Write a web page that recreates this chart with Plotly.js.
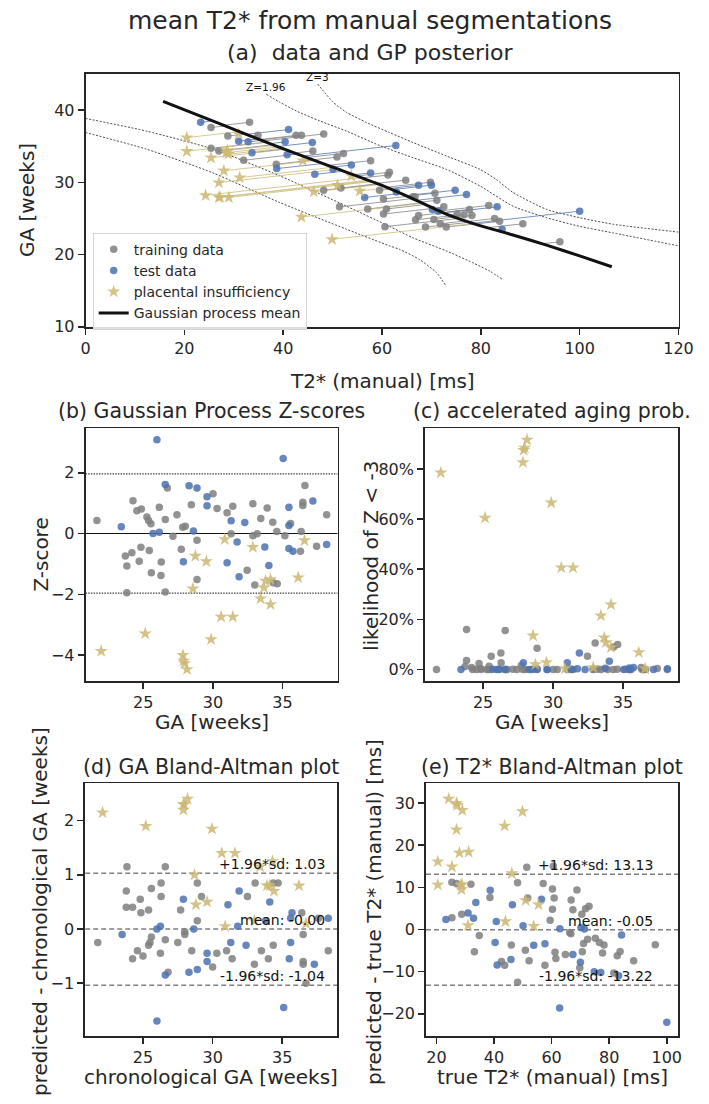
<!DOCTYPE html>
<html>
<head>
<meta charset="utf-8">
<script src="https://cdn.plot.ly/plotly-3.0.1.min.js"></script>
<style>
  html, body { margin: 0; padding: 0; background: #ffffff; }
  #chart { width: 709px; height: 1104px; }
</style>
</head>
<body>
<div id="chart"></div>
<script>
// ---------------------------------------------------------------
// Scans: mean T2* (ms), gestational age (weeks) and the point the
// GP model predicts for each scan (predicted T2*, predicted GA).
// ---------------------------------------------------------------
const trainT2 = [33.2, 25.4, 28.8, 34.9, 42.6, 43.7, 48.2, 25.4, 27.0, 32.0, 38.6, 46.0, 50.9, 52.2, 57.7, 48.2,
  51.4, 57.1, 51.7, 61.5, 61.2, 64.8, 69.8, 59.5, 60.3, 66.3, 66.7, 70.7, 71.1, 60.9, 60.3, 60.6, 72.5, 67.4,
  66.8, 70.5, 71.8, 73.0, 68.8, 75.2, 76.6, 78.2, 77.7, 81.6, 82.8, 83.8, 88.5, 96.0];
const trainGA = [38.3, 37.6, 36.4, 36.5, 36.5, 36.5, 36.7, 34.7, 34.35, 33.05, 32.5, 34.35, 33.5, 34.0, 33.0, 28.9,
  26.6, 26.3, 29.2, 31.4, 31.0, 30.3, 30.0, 28.9, 27.7, 28.0, 28.0, 28.5, 27.5, 26.3, 25.6, 23.85, 26.6, 25.4,
  24.8, 24.85, 24.25, 23.8, 23.8, 25.6, 25.5, 25.4, 26.25, 26.8, 25.0, 24.6, 24.25, 21.75];
const trainPredT2 = [27.9, 28.2, 32.4, 33.5, 35.0, 35.2, 35.7, 36.6, 37.9, 42.75, 46.2, 42.3, 46.0, 44.8, 49.2, 59.3,
  66.2, 68.0, 59.2, 54.65, 55.8, 58.9, 60.7, 61.7, 65.1, 65.6, 65.7, 65.4, 67.8, 68.4, 69.9, 75.6, 70.2, 72.1,
  73.8, 74.1, 76.7, 78.5, 78.2, 73.1, 73.5, 74.5, 72.1, 71.3, 76.6, 78.6, 81.1, 92.4];
const trainPredGA = [37.9, 37.8, 36.7, 36.4, 35.9, 35.85, 35.7, 35.55, 35.2, 33.9, 33.1, 34.05, 33.1, 33.45, 32.35, 29.75,
  27.75, 27.15, 29.8, 30.85, 30.6, 29.85, 29.3, 29.05, 28.05, 27.95, 27.9, 28.1, 27.25, 26.9, 26.35, 25.0, 26.4, 25.75,
  25.35, 25.15, 24.65, 24.2, 24.5, 25.45, 25.25, 25.1, 25.8, 26.0, 24.5, 24.2, 23.7, 21.5];

const testT2 = [23.3, 41.1, 31.0, 32.9, 40.4, 45.9, 33.7, 40.8, 38.7, 46.4, 50.1, 53.8, 57.7, 56.5, 62.8, 67.4,
  70.0, 62.9, 74.8, 77.1, 70.2, 71.4, 83.3, 100.0, 84.3];
const testGA = [38.3, 37.3, 35.7, 35.6, 35.6, 35.5, 34.1, 33.8, 31.9, 31.1, 31.8, 32.4, 31.3, 27.9, 35.1, 29.6,
  29.6, 28.65, 28.9, 28.3, 26.25, 26.0, 26.6, 26.0, 23.5];
const testPredT2 = [25.7, 32.7, 34.9, 35.6, 37.3, 38.8, 40.1, 42.7, 48.0, 52.25, 51.0, 50.05, 54.3, 63.7, 44.2, 61.5,
  62.25, 63.1, 64.8, 66.9, 70.65, 71.5, 72.3, 78.0, 83.0];
const testPredGA = [38.5, 36.65, 36.0, 35.8, 35.35, 34.95, 34.6, 33.95, 32.6, 31.55, 31.85, 32.1, 31.05, 28.45, 33.65, 29.15,
  29.0, 28.65, 28.15, 27.5, 26.3, 26.0, 25.75, 24.3, 23.4];

const piT2 = [20.5, 20.5, 31.0, 25.4, 28.5, 28.9, 28.7, 28.0, 31.2, 27.0, 24.3, 27.2, 27.0, 29.0, 43.7, 49.9,
  44.0, 46.2, 51.0, 53.8, 55.5];
const piGA = [36.2, 34.3, 36.7, 33.4, 34.1, 33.9, 34.4, 31.6, 30.65, 29.95, 28.2, 27.95, 27.9, 27.9, 25.2, 22.1,
  33.0, 28.7, 29.6, 30.9, 28.8];
const piPredT2 = [31.1, 36.6, 32.0, 40.3, 39.0, 39.6, 38.2, 46.2, 49.6, 50.7, 55.3, 56.7, 57.0, 57.3, 68.3, 77.9,
  45.9, 59.5, 57.9, 54.6, 61.4];
const piPredGA = [37.0, 35.55, 36.8, 34.55, 34.9, 34.7, 35.1, 33.0, 32.05, 31.8, 30.6, 30.25, 30.2, 30.1, 27.1, 24.25,
  33.15, 29.7, 30.1, 30.95, 29.25];

// ---------------------------------------------------------------
// GP posterior mean and the Z = +-1.96 / +-3 contours
// ---------------------------------------------------------------
const gpMeanT2 = [15.7, 27.0, 38.6, 50.0, 59.5, 66.3, 73.0, 79.8, 86.5, 93.3, 100.0, 106.5];
const gpMeanGA = [41.2, 38.15, 35.0, 32.1, 29.7, 27.7, 25.6, 24.0, 22.7, 21.3, 19.8, 18.3];

const zUp196T2 = [36.6, 39.3, 42.6, 47.4, 52.8, 59.5, 66.3, 73.0, 79.8, 86.5, 93.3, 100.0, 106.7, 120.0];
const zUp196GA = [42.2, 41.1, 39.9, 38.5, 37.1, 35.1, 33.4, 31.8, 29.5, 26.7, 25.1, 23.9, 23.0, 21.2];
const zUp3T2 = [47.0, 50.1, 52.8, 56.8, 61.5, 66.3, 73.0, 79.8, 83.1, 86.5, 93.3, 100.0, 106.7, 120.0];
const zUp3GA = [43.6, 41.1, 39.7, 38.3, 36.9, 35.5, 33.65, 31.8, 30.4, 28.6, 26.25, 25.1, 24.2, 23.1];
const zLo196T2 = [0.0, 12.3, 25.8, 39.3, 52.8, 61.5, 66.3, 73.0, 78.4, 81.8, 84.5];
const zLo196GA = [38.85, 37.1, 34.6, 30.9, 26.7, 23.9, 22.3, 20.5, 18.85, 17.7, 16.5];
const zLo3T2 = [0.0, 12.3, 25.8, 39.3, 52.8, 61.5, 63.6, 67.6, 71.0, 73.0];
const zLo3GA = [36.9, 34.6, 31.3, 27.2, 23.5, 21.2, 20.7, 19.3, 17.5, 15.6];

// ---------------------------------------------------------------
// Per-scan Z-scores and probability of Z < -3
// ---------------------------------------------------------------
const trainZGA = [21.67, 24.26, 24.54, 24.86, 25.26, 25.38, 25.55, 26.15, 26.58, 26.73, 27.13, 27.42, 27.83, 28.02,
  27.73, 28.45, 28.86, 23.71, 24.18, 24.83, 25.43, 23.82, 24.71, 25.58, 26.29, 26.27, 26.58, 28.86, 23.82,
  30.01, 30.30, 31.02, 31.43, 32.87, 33.90, 33.44, 34.30, 34.59, 35.17, 35.58, 36.34, 36.46, 36.46, 36.61,
  38.17, 37.45, 36.29, 32.87, 33.18, 31.31, 32.46, 33.01, 34.62, 34.33];
const trainZ = [0.43, 1.08, 0.75, 0.81, 0.54, 0.43, 0.32, 0.86, 0.46, 1.50, -0.09, 0.62, 0.21, 0.24,
  -0.52, 0.95, -0.22, -0.74, -0.63, -0.45, -0.56, -1.07, -0.91, -1.29, -0.94, -1.38, -1.92, -1.51, -1.95,
  1.31, 0.82, 0.68, 0.90, 0.98, 0.84, 0.49, 0.37, 0.07, -0.07, 0.33, 0.07, 1.03, 0.92, 1.58,
  0.62, -0.42, -0.58, -0.07, -0.01, -0.01, -1.21, -1.69, -1.65, -1.62];
const trainProb = [0, 0, 0, 0, 0, 0, 0, 0, 0, 0, 0.001, 0, 0, 0,
  0.016, 0, 0.002, 0.012, 0.008, 0.004, 0.013, 0.036, 0.024, 0.053, 0.027, 0.066, 0.155, 0.085, 0.159,
  0, 0, 0, 0, 0, 0, 0, 0, 0.001, 0.001, 0, 0.001, 0, 0, 0,
  0, 0.004, 0.008, 0.001, 0.001, 0.001, 0.053, 0.106, 0.100, 0.090];

const testZGA = [25.98, 23.42, 25.70, 26.15, 26.58, 28.29, 28.86, 28.60, 27.88, 29.58, 29.58, 31.31, 32.29,
  31.74, 33.73, 35.46, 35.46, 35.46, 35.75, 37.18, 38.17, 31.02, 34.02, 31.88, 35.05];
const testZ = [3.08, 0.22, 0.00, 0.04, 1.61, 1.57, 1.50, 0.08, -0.93, 1.21, 0.91, 0.42, 0.36,
  -0.28, -0.44, 0.86, 0.26, -0.49, -0.58, 1.07, -0.36, -0.96, -1.05, -1.42, 2.47];
const testProb = [0, 0, 0.001, 0.001, 0, 0, 0, 0.001, 0.027, 0, 0, 0, 0,
  0.003, 0.005, 0, 0, 0.006, 0.008, 0, 0.003, 0.027, 0.033, 0.066, 0];

const piZGA = [21.98, 25.14, 27.85, 27.90, 27.97, 28.14, 28.57, 28.74, 29.53, 29.87, 30.59, 31.43, 30.85,
  32.87, 33.42, 34.14, 33.66, 33.78, 34.14, 36.13, 36.58];
const piZ = [-3.87, -3.29, -4.00, -4.19, -4.27, -4.47, -1.81, -0.74, -0.92, -3.48, -2.74, -2.74, -0.19,
  -0.45, -2.14, -2.33, -1.78, -1.56, -1.51, -1.45, -0.23];
const piProb = [0.785, 0.605, 0.826, 0.875, 0.884, 0.916, 0.135, 0.020, 0.028, 0.665, 0.406, 0.406, 0.004,
  0.008, 0.215, 0.259, 0.127, 0.108, 0.088, 0.068, 0.004];

// Bland-Altman summary statistics (mean difference, +-1.96 sd limits)
const gaDiffMean = -0.002, gaDiffUpper = 1.03, gaDiffLower = -1.04;
const t2DiffMean = -0.05, t2DiffUpper = 13.13, t2DiffLower = -13.22;

// ---------------------------------------------------------------
const GREY = '#7f7f7f', BLUE = '#4c72b0', GOLD = '#ccb974', INK = '#262626';
const FONT = 'DejaVu Sans, Liberation Sans, sans-serif';
const W = 709, H = 1104;
const px = v => v / W;           // horizontal pixel -> paper
const py = v => 1 - v / H;       // vertical pixel (from top) -> paper

const diff = (a, b) => a.map((v, i) => v - b[i]);

function segments(x0, y0, x1, y1) {
  const xs = [], ys = [];
  for (let i = 0; i < x0.length; i++) {
    xs.push(x0[i], x1[i], null);
    ys.push(y0[i], y1[i], null);
  }
  return { xs, ys };
}

const circle = c => ({ color: c, size: 7.5, opacity: 0.85, line: { width: 0 } });
const star = { color: GOLD, size: 10, symbol: 'star', opacity: 0.85, line: { width: 0 } };

const traces = [];

// (a) contours
[[zLo3T2, zLo3GA], [zLo196T2, zLo196GA], [zUp196T2, zUp196GA], [zUp3T2, zUp3GA]].forEach(([x, y]) => {
  traces.push({ x, y, xaxis: 'x', yaxis: 'y', mode: 'lines', showlegend: false, hoverinfo: 'skip',
    line: { color: '#1a1a1a', width: 0.8, dash: '2px,1.6px', shape: 'spline', smoothing: 0.6 } });
});

// (a) scan -> prediction links
[[trainT2, trainGA, trainPredT2, trainPredGA, GREY],
 [testT2, testGA, testPredT2, testPredGA, BLUE],
 [piT2, piGA, piPredT2, piPredGA, GOLD]].forEach(([a, b, c, d, col]) => {
  const s = segments(a, b, c, d);
  traces.push({ x: s.xs, y: s.ys, xaxis: 'x', yaxis: 'y', mode: 'lines', showlegend: false,
    hoverinfo: 'skip', opacity: 0.85, line: { color: col, width: 0.9 } });
});

// (a) scans
traces.push({ x: trainT2, y: trainGA, xaxis: 'x', yaxis: 'y', mode: 'markers', name: 'training data',
  marker: circle(GREY) });
traces.push({ x: testT2, y: testGA, xaxis: 'x', yaxis: 'y', mode: 'markers', name: 'test data',
  marker: circle(BLUE) });
traces.push({ x: piT2, y: piGA, xaxis: 'x', yaxis: 'y', mode: 'markers', name: 'placental insufficiency',
  marker: star });
traces.push({ x: gpMeanT2, y: gpMeanGA, xaxis: 'x', yaxis: 'y', mode: 'lines', name: 'Gaussian process mean',
  line: { color: '#111111', width: 3, shape: 'spline', smoothing: 0.5 } });

// (b) Z-scores, (c) probabilities
[['x2', 'y2', trainZ, testZ, piZ], ['x3', 'y3', trainProb, testProb, piProb]].forEach(([xa, ya, tr, te, pi]) => {
  traces.push({ x: trainZGA, y: tr, xaxis: xa, yaxis: ya, mode: 'markers', showlegend: false, marker: circle(GREY) });
  traces.push({ x: testZGA, y: te, xaxis: xa, yaxis: ya, mode: 'markers', showlegend: false, marker: circle(BLUE) });
  traces.push({ x: piZGA, y: pi, xaxis: xa, yaxis: ya, mode: 'markers', showlegend: false, marker: star });
});

// (d) GA Bland-Altman
traces.push({ x: trainGA, y: diff(trainPredGA, trainGA), xaxis: 'x4', yaxis: 'y4', mode: 'markers', showlegend: false, marker: circle(GREY) });
traces.push({ x: testGA, y: diff(testPredGA, testGA), xaxis: 'x4', yaxis: 'y4', mode: 'markers', showlegend: false, marker: circle(BLUE) });
traces.push({ x: piGA, y: diff(piPredGA, piGA), xaxis: 'x4', yaxis: 'y4', mode: 'markers', showlegend: false, marker: star });

// (e) T2* Bland-Altman
traces.push({ x: trainT2, y: diff(trainPredT2, trainT2), xaxis: 'x5', yaxis: 'y5', mode: 'markers', showlegend: false, marker: circle(GREY) });
traces.push({ x: testT2, y: diff(testPredT2, testT2), xaxis: 'x5', yaxis: 'y5', mode: 'markers', showlegend: false, marker: circle(BLUE) });
traces.push({ x: piT2, y: diff(piPredT2, piT2), xaxis: 'x5', yaxis: 'y5', mode: 'markers', showlegend: false, marker: star });

// ---------------------------------------------------------------
const axisBase = {
  showline: true, mirror: true, linecolor: INK, linewidth: 1.8,
  ticks: 'outside', ticklen: 6, tickwidth: 1.6, tickcolor: INK,
  showgrid: false, zeroline: false, fixedrange: true,
  tickfont: { family: FONT, size: 16, color: INK }
};
const ax = o => Object.assign({}, axisBase, o);

const gaRange = [20.85, 38.95];
const panelsY1 = [py(681), py(428.3)];
const panelsY2 = [py(1035.7), py(783.3)];

const hline = (xref, yref, y, dash, color, width) => ({
  type: 'line', xref: xref + ' domain', yref, x0: 0, x1: 1, y0: y, y1: y,
  line: { color, width, dash }, layer: 'below'
});

const fmt = v => (v < 0 ? '-' : '') + Math.abs(v).toFixed(2);

const txt = (text, x, y, size, extra) => Object.assign({
  text, x, y, xref: 'paper', yref: 'paper', showarrow: false, borderpad: 0,
  xanchor: 'center', yanchor: 'middle', font: { family: FONT, size, color: INK }
}, extra || {});

const baLabel = (xref, yref, xfrac, y, text) => ({
  text, xref: xref + ' domain', yref, x: xfrac, y, xanchor: 'right', yanchor: 'bottom',
  showarrow: false, font: { family: FONT, size: 14, color: '#111111' }, borderpad: 0
});

const layout = {
  width: W, height: H,
  margin: { l: 0, r: 0, t: 0, b: 0 },
  paper_bgcolor: '#ffffff', plot_bgcolor: '#ffffff',
  font: { family: FONT, color: INK },
  showlegend: true,
  legend: {
    x: px(92.7), y: py(232.7), xanchor: 'left', yanchor: 'top',
    bgcolor: 'rgba(255,255,255,0.85)', bordercolor: '#d4d4d4', borderwidth: 1,
    font: { family: FONT, size: 14, color: INK }, itemwidth: 30, tracegroupgap: 0
  },
  xaxis: ax({ domain: [px(85.5), px(678.5)], range: [0, 120], anchor: 'y', tickvals: [0, 20, 40, 60, 80, 100, 120] }),
  yaxis: ax({ domain: [py(326.7), py(74)], range: [10, 45], anchor: 'x', tickvals: [10, 20, 30, 40] }),
  xaxis2: ax({ domain: [px(85.5), px(337.5)], range: gaRange, anchor: 'y2', tickvals: [25, 30, 35] }),
  yaxis2: ax({ domain: panelsY1, range: [-4.85, 3.46], anchor: 'x2', tickvals: [-4, -2, 0, 2] }),
  xaxis3: ax({ domain: [px(425), px(678.3)], range: gaRange, anchor: 'y3', tickvals: [25, 30, 35] }),
  yaxis3: ax({ domain: panelsY1, range: [-0.046, 0.962], anchor: 'x3', tickvals: [0, 0.2, 0.4, 0.6, 0.8], tickformat: '.0%' }),
  xaxis4: ax({ domain: [px(85.2), px(337.3)], range: gaRange, anchor: 'y4', tickvals: [25, 30, 35] }),
  yaxis4: ax({ domain: panelsY2, range: [-1.97, 2.69], anchor: 'x4', tickvals: [-1, 0, 1, 2] }),
  xaxis5: ax({ domain: [px(426), px(678.3)], range: [16.4, 104.0], anchor: 'y5', tickvals: [20, 40, 60, 80, 100] }),
  yaxis5: ax({ domain: panelsY2, range: [-25.2, 34.7], anchor: 'x5', tickvals: [-20, -10, 0, 10, 20, 30] }),
  shapes: [
    hline('x2', 'y2', 0, 'solid', '#111111', 1),
    hline('x2', 'y2', 1.96, '1.5px,1.2px', '#111111', 1),
    hline('x2', 'y2', -1.96, '1.5px,1.2px', '#111111', 1),
    hline('x4', 'y4', gaDiffUpper, '5px,3px', '#808080', 1.5),
    hline('x4', 'y4', gaDiffMean, '5px,3px', '#808080', 1.5),
    hline('x4', 'y4', gaDiffLower, '5px,3px', '#808080', 1.5),
    hline('x5', 'y5', t2DiffUpper, '5px,3px', '#808080', 1.5),
    hline('x5', 'y5', t2DiffMean, '5px,3px', '#808080', 1.5),
    hline('x5', 'y5', t2DiffLower, '5px,3px', '#808080', 1.5)
  ],
  annotations: [
    txt('mean T2* from manual segmentations', px(370), py(20.5), 25),
    txt('(a)\u00a0 data and GP posterior', px(370), py(52.5), 22),
    txt('(b) Gaussian Process Z-scores', px(211.5), py(411), 20.5),
    txt('(c) accelerated aging prob.', px(551.7), py(411), 20.5),
    txt('(d) GA Bland-Altman plot', px(211.3), py(767), 20.5),
    txt('(e) T2* Bland-Altman plot', px(552), py(767), 20.5),

    txt('T2* (manual) [ms]', px(382), py(381), 20),
    txt('GA [weeks]', px(27), py(200), 20, { textangle: -90 }),
    txt('GA [weeks]', px(211.5), py(722), 20),
    txt('Z-score', px(41), py(554.6), 20, { textangle: -90 }),
    txt('GA [weeks]', px(551.7), py(722), 20),
    txt('likelihood of Z < -3', px(371), py(556), 20, { textangle: -90 }),
    txt('chronological GA [weeks]', px(211.3), py(1077), 20),
    txt('predicted - chronological GA [weeks]', px(40), py(912), 20, { textangle: -90 }),
    txt('true T2* (manual) [ms]', px(552), py(1077), 20),
    txt('predicted - true T2* (manual) [ms]', px(374), py(912), 20, { textangle: -90 }),

    { text: 'Z=1.96', x: zUp196T2[0], y: zUp196GA[0], xref: 'x', yref: 'y', showarrow: false,
      xanchor: 'center', yanchor: 'bottom', yshift: -1, font: { family: FONT, size: 10.5, color: '#111111' } },
    { text: 'Z=3', x: zUp3T2[0], y: zUp3GA[0], xref: 'x', yref: 'y', showarrow: false,
      xanchor: 'center', yanchor: 'bottom', yshift: -1, font: { family: FONT, size: 10.5, color: '#111111' } },

    baLabel('x4', 'y4', 0.955, gaDiffUpper, '+1.96*sd: ' + fmt(gaDiffUpper)),
    baLabel('x4', 'y4', 0.955, gaDiffMean, 'mean: ' + fmt(gaDiffMean)),
    baLabel('x4', 'y4', 0.955, gaDiffLower, '-1.96*sd: ' + fmt(gaDiffLower)),
    baLabel('x5', 'y5', 0.904, t2DiffUpper, '+1.96*sd: ' + fmt(t2DiffUpper)),
    baLabel('x5', 'y5', 0.904, t2DiffMean, 'mean: ' + fmt(t2DiffMean)),
    baLabel('x5', 'y5', 0.904, t2DiffLower, '-1.96*sd: ' + fmt(t2DiffLower))
  ]
};

Plotly.newPlot('chart', traces, layout, { staticPlot: true, displayModeBar: false });
</script>
</body>
</html>
